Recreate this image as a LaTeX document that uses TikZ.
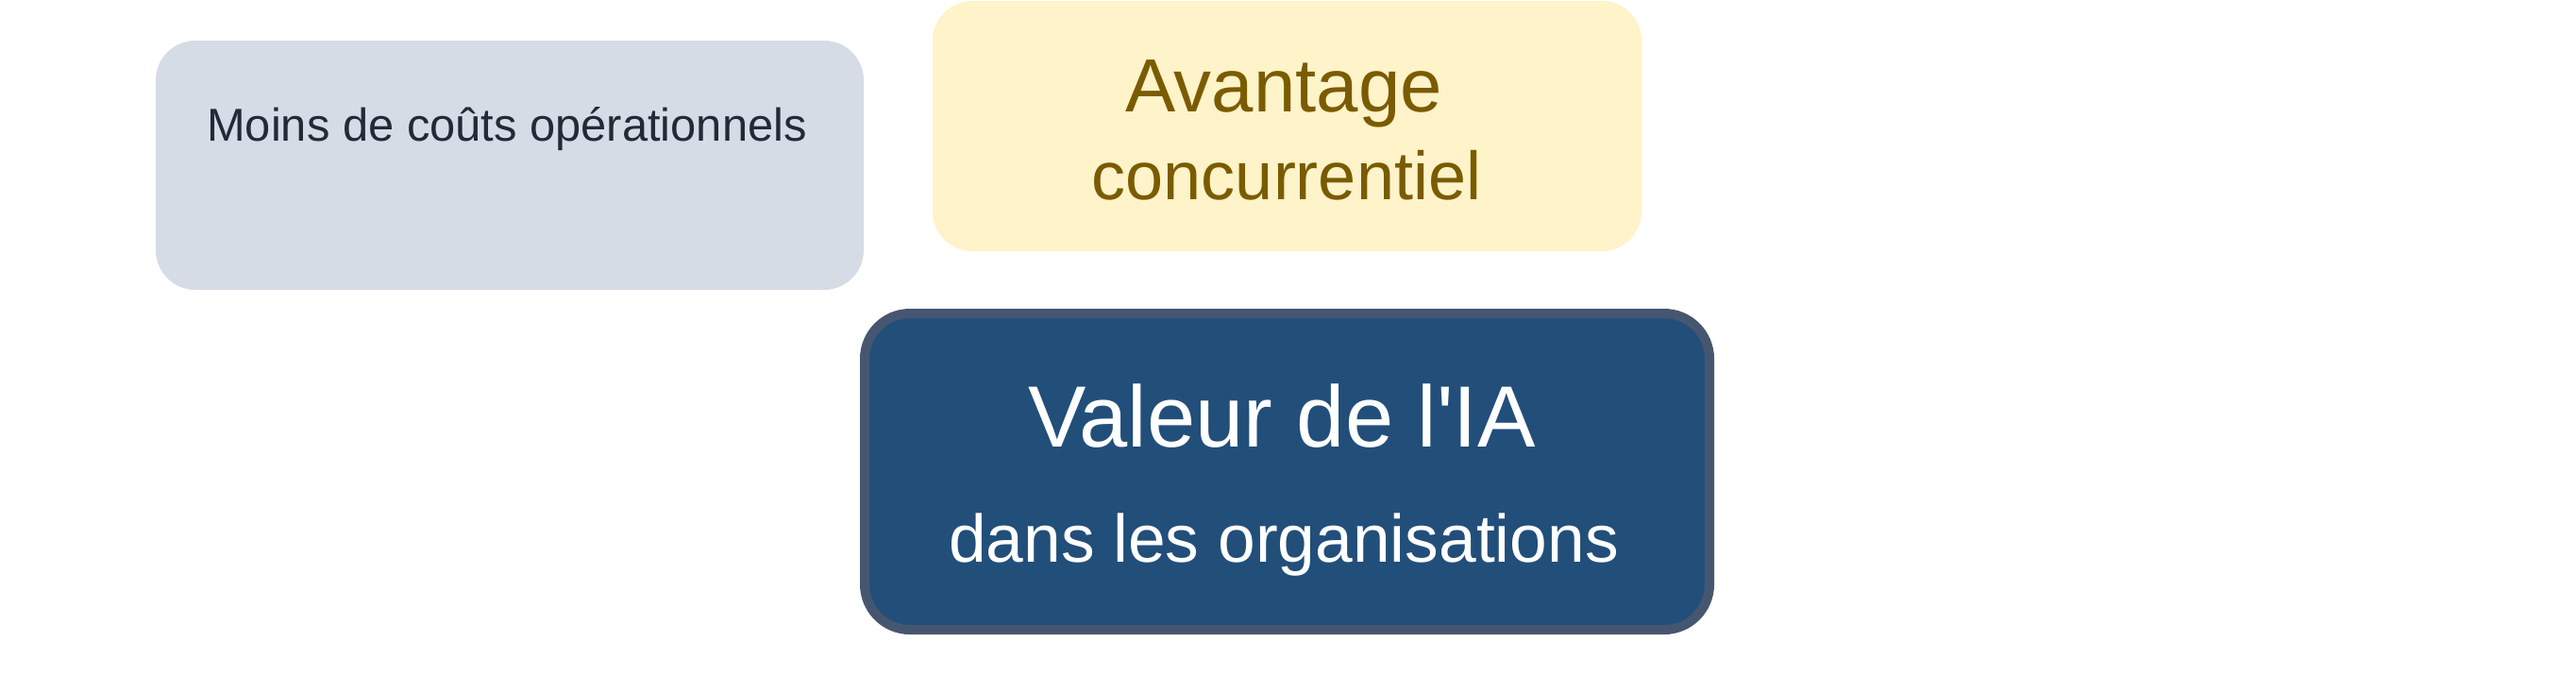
\documentclass[tikz,border=0pt]{standalone}
\usepackage{fontspec}
\setmainfont{Liberation Sans}
\usepackage{tikz}
\usetikzlibrary{shapes,positioning}

\definecolor{grayfill}{HTML}{D6DCE6}
\definecolor{graytext}{HTML}{232A36}
\definecolor{yellowfill}{HTML}{FEF3C9}
\definecolor{yellowtext}{HTML}{7A5B00}
\definecolor{bluefill}{HTML}{224E7A}
\definecolor{blueline}{HTML}{475670}

\begin{document}
\begin{tikzpicture}[
    box/.style={rectangle,rounded corners=0.42cm,inner sep=0pt},
    txt/.style={anchor=base,inner sep=0pt}]
    \useasboundingbox (0,0) rectangle (27.29,-7.32);

    % boxes
    \node (couts) [box,fill=grayfill,minimum width=7.50cm,minimum height=2.64cm] at (5.40,-1.75) {};
    \node (avantage) [box,fill=yellowfill,minimum width=7.51cm,minimum height=2.65cm] at (13.635,-1.335) {};
    \node (valeur) [box,rounded corners=0.48cm,fill=bluefill,draw=blueline,line width=2.85pt,
        minimum width=8.95cm,minimum height=3.35cm] at (13.635,-4.995) {};

    % texts
    \node (coutsA) [txt,text=graytext,font=\fontsize{13.9}{16}\selectfont] at (5.37,-1.49) {Moins de coûts opérationnels};
    \node (avantageA) [txt,text=yellowtext,font=\fontsize{22.7}{27}\selectfont] at (13.60,-1.18) {Avantage};
    \node (avantageB) [txt,text=yellowtext,font=\fontsize{20.5}{25}\selectfont] at (13.63,-2.11) {concurrentiel};
    \node (valeurA) [txt,text=white,font=\fontsize{26.2}{31}\selectfont] at (13.58,-4.73) {Valeur de l\textquotesingle IA};
    \node (valeurB) [txt,text=white,font=\fontsize{20.3}{24}\selectfont] at (13.60,-5.95) {dans les organisations};
\end{tikzpicture}
\end{document}
